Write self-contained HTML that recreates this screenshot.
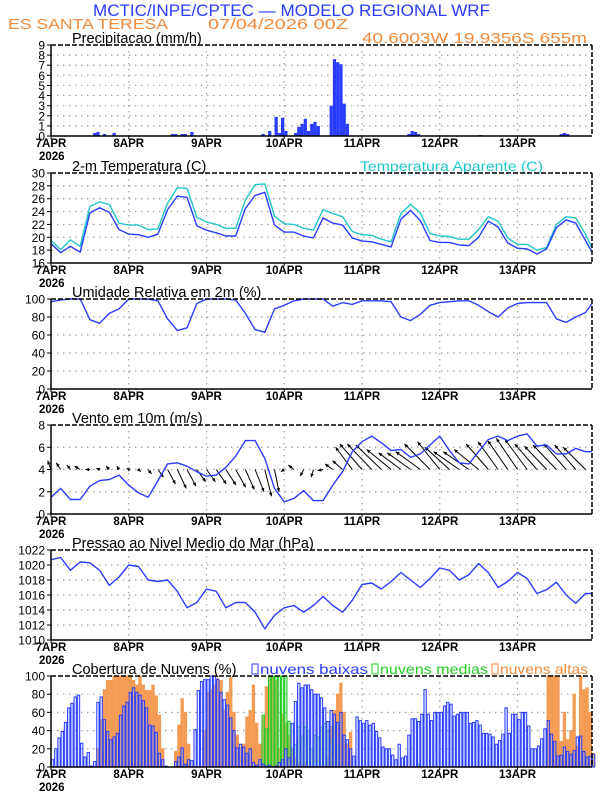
<!DOCTYPE html>
<html><head><meta charset="utf-8">
<style>
html,body{margin:0;padding:0;background:#fff;}
svg{display:block;font-family:"Liberation Sans",sans-serif;}
</style></head>
<body>
<svg id="chart" width="612" height="792" viewBox="0 0 612 792" xmlns="http://www.w3.org/2000/svg">
<text x="93" y="16" font-size="17" fill="#2a3cff" textLength="397" lengthAdjust="spacingAndGlyphs">MCTIC/INPE/CPTEC — MODELO REGIONAL WRF</text>
<text x="8" y="29" font-size="15" fill="#f08a3c" textLength="160" lengthAdjust="spacingAndGlyphs">ES SANTA TERESA</text>
<text x="208" y="29" font-size="15" fill="#f08a3c" textLength="140" lengthAdjust="spacingAndGlyphs">07/04/2026 00Z</text>
<text x="362" y="43" font-size="15" fill="#f08a3c" textLength="225" lengthAdjust="spacingAndGlyphs">40.6003W 19.9356S 655m</text>
<text x="360" y="171" font-size="14" fill="#20c8c8" textLength="183" lengthAdjust="spacingAndGlyphs">Temperatura Aparente (C)</text>
<g>
<rect x="252" y="664" width="6" height="10" fill="none" stroke="#2a3cff"/>
<text x="260" y="674" font-size="14" fill="#2a3cff" textLength="108" lengthAdjust="spacingAndGlyphs">nuvens baixas</text>
<rect x="372" y="664" width="6" height="10" fill="none" stroke="#22cc22"/>
<text x="380" y="674" font-size="14" fill="#22cc22" textLength="108" lengthAdjust="spacingAndGlyphs">nuvens medias</text>
<rect x="492" y="664" width="6" height="10" fill="none" stroke="#f08a3c"/>
<text x="500" y="674" font-size="14" fill="#f08a3c" textLength="88" lengthAdjust="spacingAndGlyphs">nuvens altas</text>
</g>
</svg>
<script>
// ---- data (hourly, 168 values) ----
const days = ["7APR","8APR","9APR","10APR","11APR","12APR","13APR"];
const precip = [
0,0,0,0,0,0,0,0,0,0,0,0,0,0.3,0.4,0,0.2,0,0,0.3,0,0,0,0,
0,0,0,0,0,0,0,0,0,0,0,0,0,0.2,0.2,0,0.2,0.2,0,0.4,0,0,0,0,
0,0,0,0,0,0,0,0,0,0,0,0,0,0,0,0,0,0.2,0,0.5,0,1.9,0.3,1.8,
0.5,0,0,0.3,0.9,1.2,1.7,0.5,1.2,1.4,1.0,0,0,0,3.0,7.6,7.3,7.1,3.2,1.2,0,0,0,0,
0,0,0,0,0,0,0,0,0,0,0,0,0,0,0.2,0.5,0.4,0.2,0,0,0,0,0,0,
0,0,0,0,0,0,0,0,0,0,0,0,0.1,0,0,0,0,0,0,0,0,0,0,0,
0,0,0,0,0,0,0,0,0,0,0,0,0,0.2,0.3,0.2,0,0,0,0,0,0,0,0];
const cloudLow = [
8,20,32,39,49,65,70,77,79,26,11,16,1,6,71,77,52,39,30,33,37,57,67,71,
82,87,82,79,73,65,46,45,38,15,8,1,0,0,6,11,21,3,8,7,41,84,94,96,
96,100,100,96,82,74,68,54,40,21,25,22,15,20,5,2,8,3,1,2,0,1,5,8,
20,10,48,72,92,87,90,90,85,80,80,
76,65,50,62,58,49,60,35,30,20,12,55,51,48,51,46,48,39,32,22,20,20,13,8,25,10,12,35,53,53,
50,58,85,58,51,60,60,60,67,71,69,56,58,60,60,60,48,49,51,46,37,37,36,33,25,29,36,65,37,58,
58,52,60,60,45,20,20,23,31,42,51,36,28,12,13,22,17,14,18,33,34,17,11,12,14];
const cloudMid = [
0,0,0,0,0,0,0,0,0,0,0,0,0,0,0,0,0,0,0,0,0,0,0,0,
0,0,0,0,0,0,0,0,0,0,0,0,0,0,0,0,0,0,0,0,0,0,0,0,
0,0,0,0,0,0,0,0,0,0,0,0,0,0,0,0,0,57,42,100,100,100,100,100,
100,50,20,25,44,34,44,40,20,35,33,44,48,40,30,45,25,0,0,0,0,0,0,0,
0,0,0,0,0,0,0,0,0,0,0,0,0,0,0,0,0,3,0,0,0,0,0,0,
0,0,0,0,0,0,0,0,0,0,0,0,0,0,0,0,0,0,0,0,0,0,0,0,
0,0,0,0,0,0,0,0,0,0,0,0,0,0,0,0,0,0,0,0,0,0,0,0];
const cloudHigh = [
0,0,0,0,0,0,0,0,0,0,0,0,0,0,20,52,85,95,95,100,100,100,100,100,
100,95,90,100,90,84,84,90,78,57,20,0,0,0,17,46,75,60,25,0,0,0,0,40,
82,85,90,97,95,63,82,98,60,35,22,25,55,62,90,48,25,55,88,100,100,95,20,58,
48,35,20,10,5,3,5,0,0,0,0,0,0,10,45,62,80,92,60,25,38,0,0,0,
0,0,0,0,0,0,0,0,0,0,0,0,0,0,0,0,0,0,0,0,0,0,0,0,
0,0,0,0,0,0,0,0,0,0,0,0,0,0,0,0,0,0,0,0,0,0,0,0,
0,0,0,0,0,0,0,0,0,100,100,100,100,28,60,30,40,80,23,100,85,87,60,15];
// ---- data (3-hourly, 57 values) ----
const temp2m = [19,17.6,18.6,17.7,23.8,24.6,23.9,21.2,20.5,20.4,20.0,20.5,24.3,26.4,26.2,21.8,21.1,20.7,20.2,20.2,24.5,26.5,27.0,21.9,20.8,20.8,20.2,19.9,23.0,22.2,21.9,19.9,19.4,19.3,18.9,18.5,22.8,24.2,22.6,19.5,19.2,19.2,18.8,18.7,20.0,22.5,21.6,19.1,18.3,18.2,17.4,18.2,21.5,22.7,22.2,19.5,17.7];
const tempApparent = [19.5,18.1,19.6,18.6,24.8,25.5,25.1,22.2,21.9,21.9,21.2,21.3,25.3,27.7,27.6,23.1,22.4,22.0,21.4,21.4,25.8,28.2,28.3,23.3,22.1,22.0,21.4,21.1,24.3,23.7,23.2,20.9,20.4,20.3,19.7,19.3,23.7,25.1,23.8,20.6,20.2,20.1,19.7,19.7,21.2,23.2,22.5,19.9,18.9,18.9,18.0,18.4,22.0,23.2,23.0,20.5,18.3];
const humidity = [97,99,100,100,77,73,84,89,100,100,100,98,78,65,68,95,100,100,100,99,84,66,63,89,93,98,100,100,100,92,96,94,98,98,98,97,80,76,83,93,96,97,98,98,93,86,80,90,95,96,96,96,78,74,80,85,95];
const windSpeed = [1.5,2.3,1.3,1.3,2.5,3.0,3.1,3.5,2.6,1.9,1.5,3.0,4.5,4.6,4.3,3.8,3.4,3.5,4.2,5.2,6.6,6.6,5.0,2.3,1.1,1.4,2.1,1.2,1.2,2.6,3.8,5.6,6.5,7.0,6.4,5.7,5.8,5.1,5.4,6.2,7.0,5.7,4.6,4.5,5.6,6.7,7.0,6.6,7.0,7.2,6.1,6.2,5.4,5.4,5.9,5.6,5.6];
const windU = [-0.3,-0.4,-0.3,-0.5,-0.4,-0.3,-0.3,-0.2,-0.2,0.2,0.3,0.5,0.7,0.8,0.8,0.8,0.8,0.9,0.9,0.9,0.8,0.8,0.6,0.4,-0.3,-0.5,-0.3,-0.2,-0.5,-0.7,-0.9,-1.5,-2.0,-2.2,-2.3,-2.2,-2.0,-2.1,-2.2,-2.3,-2.0,-2.2,-2.3,-2.3,-2.2,-2.0,-1.8,-1.8,-1.9,-2.0,-2.0,-2.0,-2.1,-2.0,-1.9,-2.0,-2.0];
const windV = [0.8,0.6,0.4,0.3,0.0,0.1,0.3,0.3,0.1,-0.2,-0.4,-0.7,-1.3,-1.7,-1.5,-1.1,-1.1,-1.3,-1.4,-1.6,-1.8,-2.0,-2.4,-2.0,-0.2,0.4,-0.6,-0.7,-0.1,0.5,0.8,2.0,2.3,2.3,2.2,1.8,1.5,1.5,1.6,2.3,2.5,2.0,1.6,1.6,1.8,2.3,2.5,2.6,2.8,2.7,2.3,2.1,2.2,2.3,2.2,2.0,1.9];
const pressure = [1020.7,1021,1019.3,1020.4,1020.3,1019.3,1017.3,1018.4,1020,1019.8,1018,1017.8,1018,1016.5,1014.3,1015,1016.8,1016.5,1014.3,1015,1015,1013.7,1011.5,1013.3,1014.3,1014.6,1013.7,1014.6,1015.8,1014.6,1013.7,1015.3,1017.4,1017.6,1016.8,1017.8,1019.0,1018.0,1017.0,1018.2,1019.6,1019.3,1018,1018.7,1020.2,1019,1017,1017.8,1019,1018.2,1016.2,1016.7,1017.7,1016,1014.9,1016.2,1016.2];
const precipTicks = [0,1,2,3,4,5,6,7,8,9];
const tempTicks = [16,18,20,22,24,26,28,30];
const pctTicks = [0,20,40,60,80,100];
const windTicks = [0,2,4,6,8];
const presTicks = [1010,1012,1014,1016,1018,1020,1022];

const NS = "http://www.w3.org/2000/svg";
const svg = document.getElementById("chart");
const X0 = 51, X1 = 592, HOURS = 167;
function xh(h){ return X0 + h*(X1-X0)/HOURS; }
function mk(tag, attrs, parent){
  const e = document.createElementNS(NS, tag);
  for (const k in attrs) e.setAttribute(k, attrs[k]);
  (parent||svg).appendChild(e); return e;
}
function panel(name, top, bot, ymin, ymax, ticks, title){
  const g = mk("g", {});
  
  
  const ys = v => bot - (v-ymin)/(ymax-ymin)*(bot-top);
  // grid
  ticks.forEach(t => {
    if (t===ymin || t===ymax) return;
    const l = mk("line", {x1:X0, x2:X1, y1:ys(t), y2:ys(t), stroke:"#a0a0a0", "stroke-width":1.2, "stroke-dasharray":"1.5,4.5"}, g);
    
    
  });
  for (let d=1; d<7; d++){
    const l = mk("line", {x1:xh(d*24), x2:xh(d*24), y1:top, y2:bot, stroke:"#a0a0a0", "stroke-width":1.2, "stroke-dasharray":"1.5,4.5"}, g);
    
    
  }
  // tick labels
  ticks.forEach(t => {
    const tx = mk("text", {x:45, y:ys(t)+4.5, "font-size":12, "text-anchor":"end", fill:"#000"}, g);
    tx.textContent = t;
    
    
    mk("line", {x1:X0-4, x2:X0, y1:ys(t), y2:ys(t), stroke:"#000", "stroke-width":1}, g);
  });
  // day labels
  days.forEach((d,i) => {
    const tx = mk("text", {x:xh(i*24), y:bot+11, "font-size":11.5, "text-anchor":"middle", fill:"#000", "font-weight":"bold"}, g);
    tx.textContent = d;
    
    
    mk("line", {x1:xh(i*24), x2:xh(i*24), y1:bot, y2:bot+3, stroke:"#000"}, g);
  });
  const yr = mk("text", {x:xh(0)-12, y:bot+24, "font-size":11.5, fill:"#000", "font-weight":"bold"}, g);
  yr.textContent = "2026";
  
  
  const tt = mk("text", {x:72, y:top-2, "font-size":14.5, fill:"#000"}, g);
  tt.textContent = title;
  
  
  const plot = mk("g", {}, g);
  
  
  return {g: plot, frame: g, ys, top, bot};
}
function frame(p){
  mk("line", {x1:X0, x2:X1, y1:p.top, y2:p.top, stroke:"#000", "stroke-width":1.5, "stroke-dasharray":"5,2"}, p.frame);
  mk("line", {x1:X1, x2:X1, y1:p.top, y2:p.bot, stroke:"#000", "stroke-width":1.5, "stroke-dasharray":"5,2"}, p.frame);
  mk("line", {x1:X0, x2:X0, y1:p.top, y2:p.bot, stroke:"#000", "stroke-width":1.5}, p.frame);
  mk("line", {x1:X0, x2:X1, y1:p.bot, y2:p.bot, stroke:"#000", "stroke-width":1.5}, p.frame);
}
function line3h(p, arr, color, name){
  const pts = arr.map((v,k) => xh(Math.min(k*3, HOURS)).toFixed(1)+","+p.ys(v).toFixed(1)).join(" ");
  const pl = mk("polyline", {points:pts, fill:"none", stroke:color, "stroke-width":1.4, "stroke-linejoin":"round"}, p.g);
  
  
}
const BW = (X1-X0)/HOURS;

// Panel 1: precipitation
const p1 = panel("precip", 45, 136, 0, 9, precipTicks, "Precipitacao (mm/h)");
precip.forEach((v,h) => {
  if (v<=0) return;
  const r = mk("rect", {x:xh(h), y:p1.ys(v), width:BW, height:p1.bot-p1.ys(v), fill:"#2a3cff"}, p1.g);
  
  
});
frame(p1);

// Panel 2: temperature
const p2 = panel("temperature", 173, 263, 16, 30, tempTicks, "2-m Temperatura (C)");
line3h(p2, tempApparent, "#20c8c8", "apparent-temperature-line");
line3h(p2, temp2m, "#2a3cff", "temperature-line");
frame(p2);

// Panel 3: humidity
const p3 = panel("humidity", 299, 389, 0, 100, pctTicks, "Umidade Relativa em 2m (%)");
line3h(p3, humidity, "#2a3cff", "humidity-line");
frame(p3);

// Panel 4: wind
const p4 = panel("wind", 425, 514, 0, 8, windTicks, "Vento em 10m (m/s)");
const unit = (p4.bot-p4.top)/8;
windU.forEach((u,k) => {
  const h = k*3; if (h>HOURS) return;
  const bx = xh(h), by = p4.ys(4);
  const tx = bx + u*unit, ty = p4.ys(4 + windV[k]);
  const a = mk("g", {}, p4.g);
  
  
  mk("line", {x1:bx, y1:by, x2:tx, y2:ty, stroke:"#000", "stroke-width":1}, a);
  const ang = Math.atan2(ty-by, tx-bx), L = 4;
  const p = [[tx,ty],[tx-L*Math.cos(ang-0.45), ty-L*Math.sin(ang-0.45)],[tx-L*Math.cos(ang+0.45), ty-L*Math.sin(ang+0.45)]];
  mk("polygon", {points:p.map(q=>q.join(",")).join(" "), fill:"#000"}, a);
});
line3h(p4, windSpeed, "#2a3cff", "wind-speed-line");
frame(p4);

// Panel 5: pressure
const p5 = panel("pressure", 550, 640, 1010, 1022, presTicks, "Pressao ao Nivel Medio do Mar (hPa)");
line3h(p5, pressure, "#2a3cff", "pressure-line");
frame(p5);

// Panel 6: clouds
const p6 = panel("clouds", 676, 767, 0, 100, pctTicks, "Cobertura de Nuvens (%)");
function cloudBars(arr, fill, stroke, name){
  arr.forEach((v,h) => {
    if (v<=0) return;
    const r = mk("rect", {x:xh(h)+0.4, y:p6.ys(v), width:BW-0.9, height:p6.bot-p6.ys(v), fill:fill, stroke:stroke, "stroke-width":1}, p6.g);
    
    
  });
}
cloudBars(cloudHigh, "rgba(240,140,60,0.85)", "#f59a50", "high-cloud-bar");
cloudBars(cloudMid, "rgba(120,220,120,0.45)", "#22cc22", "mid-cloud-bar");
cloudBars(cloudLow, "rgba(160,185,255,0.35)", "#2a3cff", "low-cloud-bar");
frame(p6);
</script>
</body></html>
